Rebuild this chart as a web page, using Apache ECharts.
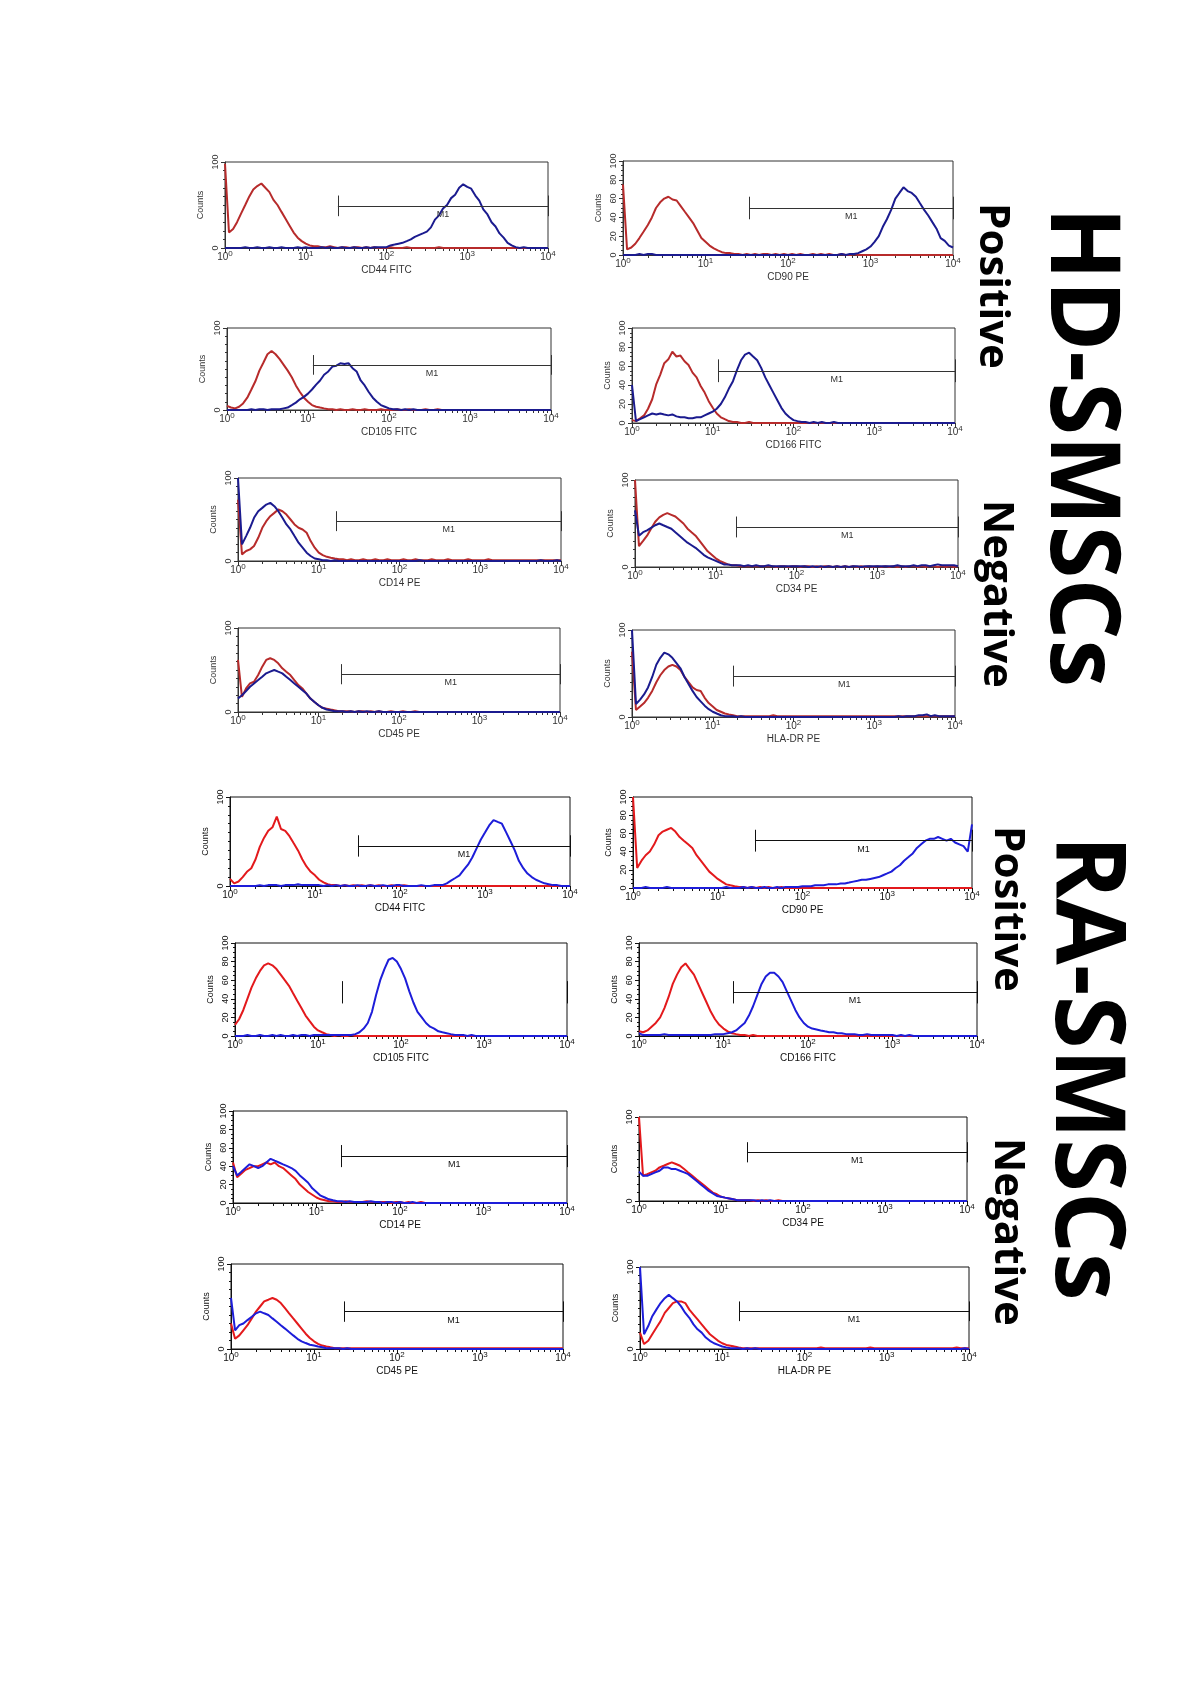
<!DOCTYPE html>
<html>
<head>
<meta charset="utf-8">
<title>HD-SMSCs / RA-SMSCs surface markers</title>
<script src="https://cdn.jsdelivr.net/npm/echarts@6/dist/echarts.min.js"></script>
<style>
  html, body { margin: 0; padding: 0; background: #fff; }
  #chart { width: 1200px; height: 1698px; }
</style>
</head>
<body>
<div id="chart"></div>
<script>
// fluorescence channels (log-spaced, 10^0 .. 10^4)
const bins = [1, 1.12, 1.26, 1.41, 1.58, 1.78, 2, 2.24, 2.51, 2.82,
  3.16, 3.55, 3.98, 4.47, 5.01, 5.62, 6.31, 7.08, 7.94, 8.91,
  10, 11.2, 12.6, 14.1, 15.8, 17.8, 20, 22.4, 25.1, 28.2,
  31.6, 35.5, 39.8, 44.7, 50.1, 56.2, 63.1, 70.8, 79.4, 89.1,
  100, 112, 126, 141, 158, 178, 200, 224, 251, 282,
  316, 355, 398, 447, 501, 562, 631, 708, 794, 891,
  1000, 1120, 1260, 1410, 1580, 1780, 2000, 2240, 2510, 2820,
  3160, 3550, 3980, 4470, 5010, 5620, 6310, 7080, 7940, 8910, 10000];

// ---- HD-SMSCs ----
const hdCd44Red = [98,18,22,30,40,50,60,68,72,75, 70,65,56,50,42,34,26,18,12,8, 5,3,2,2,1,1,2,1,0,1, 1,0,1,1,0,1,0,1,0,0, 0,1,0,0,0,1,0,0,0,0, 0,0,0,1,0,0,0,0,0,0, 0,0,0,0,0,0,0,0,0,0, 0,0,0,0,0,0,0,0,0,0,0];
const hdCd44Blue = [0,0,0,0,0,1,0,0,1,0, 0,1,0,0,1,0,0,0,1,0, 1,0,0,0,1,0,1,0,0,1, 0,0,1,0,0,1,0,1,1,1, 1,3,4,5,6,8,10,13,15,17, 19,24,33,38,46,50,58,62,70,74, 71,69,61,55,45,39,30,25,17,12, 6,3,1,0,1,0,0,0,0,0,0];
const hdCd90Red = [75,6,8,12,18,25,32,40,50,56, 60,62,59,58,52,46,40,34,26,18, 14,10,7,5,3,2,2,1,1,0, 1,0,1,0,1,1,0,1,0,1, 0,1,0,1,0,0,1,0,1,0, 1,0,0,1,0,0,1,0,0,0, 0,0,0,0,0,0,0,0,0,0, 0,0,0,0,0,0,0,0,0,0,0];
const hdCd90Blue = [0,0,0,0,1,0,1,1,0,0, 0,0,0,0,0,0,0,0,0,0, 0,0,0,0,0,0,0,0,0,0, 0,0,0,0,0,0,0,0,0,0, 0,0,0,0,0,0,0,0,0,0, 0,0,0,1,0,1,1,2,4,6, 9,14,20,30,38,48,60,66,72,68, 66,62,55,48,42,35,28,18,15,10,8];
const hdCd105Red = [5,3,2,4,8,15,25,35,48,58, 68,72,68,62,55,48,40,30,22,15, 10,6,4,3,2,1,1,0,1,0, 0,1,0,0,1,0,0,0,1,0, 0,0,1,0,0,1,0,0,0,1, 0,0,1,0,0,0,0,0,0,0, 0,0,0,0,0,0,0,0,0,0, 0,0,0,0,0,0,0,0,0,0,0];
const hdCd105Blue = [0,0,0,0,0,0,1,0,1,1, 0,1,1,1,2,3,6,9,13,16, 20,25,31,36,43,47,53,54,57,56, 57,51,47,36,30,22,15,10,6,4, 2,1,1,0,1,0,1,0,0,0, 0,0,0,0,0,0,0,0,0,0, 0,0,0,0,0,0,0,0,0,0, 0,0,0,0,0,0,0,0,0,0,0];
const hdCd166Red = [3,2,5,8,15,25,41,51,63,67, 75,70,71,65,61,53,48,39,32,23, 16,10,6,4,2,1,1,0,0,1, 0,0,0,0,0,0,0,0,0,0, 0,0,0,0,0,0,0,0,0,0, 0,0,0,0,0,0,0,0,0,0, 0,0,0,0,0,0,0,0,0,0, 0,0,0,0,0,0,0,0,0,0,0];
const hdCd166Blue = [40,2,4,6,8,10,9,10,9,8, 9,7,6,6,5,5,6,6,8,10, 12,15,20,27,36,44,56,66,72,74, 70,66,58,48,40,32,24,16,10,6, 3,2,1,1,0,1,0,1,0,0, 1,0,0,0,0,0,0,0,0,0, 0,0,0,0,0,0,0,0,0,0, 0,0,0,0,0,0,0,0,0,0,0];
const hdCd14Red = [74,8,12,14,18,28,40,48,54,58, 62,60,56,50,44,40,38,34,24,16, 10,7,5,4,3,2,2,1,2,1, 1,2,1,1,2,1,1,2,1,1, 1,2,1,1,2,1,1,1,2,1, 1,1,2,1,1,1,1,2,1,1, 1,1,2,1,1,1,1,1,1,1, 1,1,1,1,1,1,1,1,1,1,1];
const hdCd14Blue = [100,20,30,40,52,60,64,68,70,66, 60,52,44,38,30,22,16,10,6,3, 2,1,1,0,1,0,0,0,0,0, 0,0,0,0,0,0,0,0,0,0, 0,0,0,0,0,1,0,0,0,0, 0,0,0,0,0,0,0,0,0,0, 0,0,0,0,0,0,0,0,0,0, 0,0,0,0,0,1,0,0,0,1,0];
const hdCd34Red = [100,24,30,36,44,52,57,60,62,60, 58,54,50,44,40,36,30,24,18,14, 10,7,5,3,2,2,1,1,1,1, 1,1,1,1,1,0,1,1,0,1, 1,0,1,1,0,1,0,1,1,0, 1,0,1,0,1,0,1,0,1,0, 1,0,1,0,1,0,1,0,1,1, 0,1,0,1,1,0,1,0,1,0,1];
const hdCd34Blue = [65,36,40,42,45,48,50,48,46,44, 40,36,32,28,25,22,18,14,11,9, 7,5,3,3,2,2,2,1,2,1, 2,1,1,2,1,1,1,1,1,1, 1,1,1,0,1,0,1,0,1,0, 1,0,1,0,1,1,0,1,1,1, 1,1,1,1,1,2,1,1,1,2, 1,2,2,1,2,3,2,2,2,2,1];
const hdCd45Red = [62,18,28,34,36,44,54,62,64,62, 58,52,48,44,38,32,28,22,16,12, 8,5,4,3,2,1,1,1,1,0, 1,1,0,1,0,1,0,0,1,0, 0,1,0,0,1,0,0,0,0,0, 0,0,0,0,0,0,0,0,0,0, 0,0,0,0,0,0,0,0,0,0, 0,0,0,0,0,0,0,0,0,0,0];
const hdCd45Blue = [16,20,25,30,34,38,42,46,48,50, 48,46,42,38,34,30,26,22,16,12, 8,5,3,2,1,1,1,0,1,0, 1,0,1,0,0,1,0,0,0,0, 0,0,0,0,0,0,0,0,0,0, 0,0,0,0,0,0,0,0,0,0, 0,0,0,0,0,0,0,0,0,0, 0,0,0,0,0,0,0,0,0,0,0];
const hdHlaRed = [75,8,12,16,22,30,40,48,54,58, 60,58,54,46,40,34,31,30,22,16, 12,8,6,4,3,2,1,1,1,1, 1,1,1,1,1,2,1,1,1,1, 1,1,1,1,1,1,1,1,1,1, 1,1,1,1,1,1,1,1,1,1, 1,1,1,1,1,1,1,1,1,1, 1,1,1,1,1,1,1,1,1,1,1];
const hdHlaBlue = [100,15,20,26,34,46,60,68,74,72, 68,62,56,46,38,30,23,18,13,9, 6,4,2,1,1,1,0,1,0,0, 0,0,0,0,0,0,0,0,0,0, 0,0,0,0,0,0,0,0,0,0, 0,0,0,0,0,0,0,0,0,0, 0,0,0,0,0,0,1,0,1,1, 1,2,2,3,1,2,1,1,1,1,1];

// ---- RA-SMSCs ----
const raCd44Red = [8,3,5,10,16,20,30,44,54,62, 66,78,64,62,56,48,40,30,22,16, 12,7,4,2,1,1,0,1,0,1, 0,1,0,1,0,1,0,0,1,0, 0,1,0,0,0,0,0,0,0,0, 0,0,0,0,0,0,0,0,0,0, 0,0,0,0,0,0,0,0,0,0, 0,0,0,0,0,0,0,0,0,0,0];
const raCd44Blue = [0,0,0,0,0,0,0,1,0,1, 1,1,0,1,1,1,2,1,1,1, 1,1,0,1,0,1,0,1,0,0, 1,0,0,1,0,0,1,0,0,1, 1,0,0,0,0,1,0,0,1,1, 1,3,6,9,12,18,24,32,42,52, 60,68,74,72,70,60,50,40,28,20, 14,10,7,5,3,2,1,1,0,0,0];
const raCd90Red = [100,22,30,36,40,48,58,62,64,66, 62,56,52,48,44,36,30,24,18,14, 10,7,4,3,2,1,1,0,1,0, 1,0,1,0,0,1,0,0,0,0, 0,0,0,0,0,0,0,0,0,0, 0,0,0,0,0,0,0,0,0,0, 0,0,0,0,0,0,0,0,0,0, 0,0,0,0,0,0,0,0,0,0,0];
const raCd90Blue = [0,0,0,1,0,0,0,0,1,0, 0,0,0,0,0,0,0,0,0,0, 0,0,1,0,0,0,1,0,1,0, 0,1,0,0,1,0,1,1,1,1, 2,2,2,3,3,3,4,4,4,5, 5,6,7,8,9,9,10,11,12,14, 16,18,22,25,30,34,38,44,48,52, 54,54,56,54,52,54,50,48,46,40,70];
const raCd105Red = [12,18,28,40,52,62,70,76,78,76, 72,66,60,54,46,38,30,22,16,10, 6,4,2,1,0,1,0,0,1,0, 0,0,0,0,0,0,0,0,0,0, 0,0,0,0,0,0,0,0,0,0, 0,0,0,0,0,0,0,0,0,0, 0,0,0,0,0,0,0,0,0,0, 0,0,0,0,0,0,0,0,0,0,0];
const raCd105Blue = [0,0,0,1,0,0,1,0,0,1, 0,1,0,0,1,0,1,1,0,1, 1,1,1,1,1,1,1,1,1,2, 4,8,14,26,44,60,72,82,84,80, 72,62,48,36,26,20,14,10,8,5, 4,3,2,1,1,1,0,1,0,0, 0,0,0,0,0,0,0,0,0,0, 0,0,0,0,0,0,0,0,0,0,0];
const raCd166Red = [5,4,6,10,14,20,30,42,56,66, 74,78,72,66,56,46,36,26,18,12, 8,5,3,2,1,1,0,1,0,0, 0,0,0,0,0,0,0,0,0,0, 0,0,0,0,0,0,0,0,0,0, 0,0,0,0,0,0,0,0,0,0, 0,0,0,0,0,0,0,0,0,0, 0,0,0,0,0,0,0,0,0,0,0];
const raCd166Blue = [3,1,1,1,1,1,2,1,1,1, 1,1,1,1,1,1,1,1,2,2, 2,3,4,6,10,14,22,32,44,56, 64,68,68,64,58,48,38,28,20,14, 10,8,7,6,5,4,4,3,3,2, 2,2,1,1,2,1,1,1,1,1, 1,0,1,0,1,0,0,0,0,0, 0,0,0,0,0,0,0,0,0,0,0];
const raCd14Red = [44,28,32,36,38,40,40,42,44,42, 44,40,38,34,30,26,20,16,12,9, 6,4,3,2,2,1,1,2,1,1, 1,1,2,1,1,1,1,1,0,1, 1,0,1,0,0,1,0,0,0,0, 0,0,0,0,0,0,0,0,0,0, 0,0,0,0,0,0,0,0,0,0, 0,0,0,0,0,0,0,0,0,0,0];
const raCd14Blue = [40,30,34,38,42,40,38,40,44,48, 46,44,42,40,38,35,30,26,22,16, 12,8,6,4,3,2,2,1,2,1, 1,1,1,2,1,1,0,1,1,0, 1,0,0,1,0,0,0,0,0,0, 0,0,0,0,0,0,0,0,0,0, 0,0,0,0,0,0,0,0,0,0, 0,0,0,0,0,0,0,0,0,0,0];
const raCd34Red = [100,30,32,34,36,40,42,44,46,44, 42,38,34,30,26,22,18,14,10,8, 5,4,3,2,1,1,1,1,0,1, 0,1,0,0,1,0,0,0,0,0, 0,0,0,0,0,0,0,0,0,0, 0,0,0,0,0,0,0,0,0,0, 0,0,0,0,0,0,0,0,0,0, 0,0,0,0,0,0,0,0,0,0,0];
const raCd34Blue = [35,30,30,32,34,36,40,40,38,38, 36,34,32,28,24,20,16,12,9,6, 5,4,3,2,1,1,1,1,1,0, 1,0,1,0,0,0,0,0,0,0, 0,0,0,0,0,0,0,0,0,0, 0,0,0,0,0,0,0,0,0,0, 0,0,0,0,0,0,0,0,0,0, 0,0,0,0,0,0,0,0,0,0,0];
const raCd45Red = [30,12,16,22,28,36,44,50,56,58, 60,58,54,48,42,36,30,24,18,13, 9,6,4,3,2,1,1,1,1,1, 1,1,1,1,1,1,1,1,1,1, 1,1,1,1,1,1,1,1,1,1, 1,1,1,1,1,1,1,1,1,1, 1,1,1,1,1,1,1,1,1,1, 1,1,1,1,1,1,1,1,1,1,1];
const raCd45Blue = [60,22,28,30,34,38,42,44,42,40, 36,32,28,24,20,16,12,9,7,5, 4,3,2,1,1,1,1,0,1,0, 0,0,0,0,0,0,0,0,0,0, 0,0,0,0,0,0,0,0,0,0, 0,0,0,0,0,0,0,0,0,0, 0,0,0,0,0,0,0,0,0,0, 0,0,0,0,0,0,0,0,0,0,0];
const raHlaRed = [20,6,10,18,26,34,44,50,56,58, 58,56,48,42,36,30,24,18,14,10, 7,5,4,3,2,1,1,1,1,1, 1,1,1,1,1,1,1,1,1,1, 1,1,1,1,2,1,1,1,1,1, 1,1,1,1,1,1,2,1,1,1, 1,1,1,1,1,1,1,1,1,1, 1,1,1,1,1,1,1,2,1,1,1];
const raHlaBlue = [100,18,28,40,48,56,62,66,62,58, 52,44,38,30,24,20,14,10,7,5, 3,2,1,1,1,0,1,0,1,0, 0,0,0,0,0,0,0,0,0,0, 0,0,0,0,0,0,0,0,0,0, 0,0,0,0,0,0,0,0,0,0, 0,0,0,0,0,0,0,0,0,0, 0,0,0,0,0,0,0,0,0,1,0];

// panel order: HD (8) then RA (8)
const markers = ['CD44 FITC', 'CD90 PE', 'CD105 FITC', 'CD166 FITC', 'CD14 PE', 'CD34 PE', 'CD45 PE', 'HLA-DR PE',
  'CD44 FITC', 'CD90 PE', 'CD105 FITC', 'CD166 FITC', 'CD14 PE', 'CD34 PE', 'CD45 PE', 'HLA-DR PE'];
const redCounts = [hdCd44Red, hdCd90Red, hdCd105Red, hdCd166Red, hdCd14Red, hdCd34Red, hdCd45Red, hdHlaRed,
  raCd44Red, raCd90Red, raCd105Red, raCd166Red, raCd14Red, raCd34Red, raCd45Red, raHlaRed];
const blueCounts = [hdCd44Blue, hdCd90Blue, hdCd105Blue, hdCd166Blue, hdCd14Blue, hdCd34Blue, hdCd45Blue, hdHlaBlue,
  raCd44Blue, raCd90Blue, raCd105Blue, raCd166Blue, raCd14Blue, raCd34Blue, raCd45Blue, raHlaBlue];
// M1 gate: start channel and height
const gateStart = [25, 34, 11.5, 11.8, 16.6, 18, 19.3, 18, 32, 27.5, 19.5, 13, 20, 21, 23, 16];
const gateLevel = [49, 50, 55, 55, 48, 46, 45, 47, 45, 52, 47, 47, 51, 58, 44, 46];
const gateLineShown = [1, 1, 1, 1, 1, 1, 1, 1, 1, 1, 0, 1, 1, 1, 1, 1];
const yStep = [100, 20, 100, 20, 100, 100, 100, 100, 100, 20, 20, 20, 20, 100, 100, 100];

// plot boxes [left, top, width, height]
const boxes = [
  [225, 162, 323, 86], [623, 161, 330, 94],
  [227, 328, 324, 82], [632, 328, 323, 95],
  [238, 478, 323, 83], [635, 480, 323, 87],
  [238, 628, 322, 84], [632, 630, 323, 87],
  [230, 797, 340, 89], [633, 797, 339, 91],
  [235, 943, 332, 93], [639, 943, 338, 93],
  [233, 1111, 334, 92], [639, 1117, 328, 84],
  [231, 1264, 332, 85], [640, 1267, 329, 82]
];

const chart = echarts.init(document.getElementById('chart'));
const grid = [], xAxis = [], yAxis = [], series = [];

markers.forEach((name, i) => {
  const ra = i >= 8;
  const ink = ra ? '#111' : '#333';
  const [l, t, w, h] = boxes[i];
  grid.push({ left: l, top: t, width: w, height: h, show: true, borderColor: ink, borderWidth: 1 });

  xAxis.push({
    gridIndex: i, type: 'log', logBase: 10, min: 1, max: 10000,
    name: name, nameLocation: 'middle', nameGap: 17,
    nameTextStyle: { fontFamily: 'Liberation Sans', fontSize: 10, color: ink },
    axisLine: { show: true, onZero: false, lineStyle: { color: ink, width: 1 } },
    axisTick: { show: true, length: 5, lineStyle: { color: ink } },
    minorTick: { show: true, splitNumber: 9, length: 3, lineStyle: { color: ink } },
    splitLine: { show: false },
    axisLabel: {
      margin: 2,
      formatter: v => '{b|10}{s|' + Math.round(Math.log10(v)) + '}',
      rich: {
        b: { fontFamily: 'Liberation Sans', fontSize: 10, color: ink },
        s: { fontFamily: 'Liberation Sans', fontSize: 8, color: ink, padding: [0, 0, 7, 0] }
      }
    }
  });

  yAxis.push({
    gridIndex: i, type: 'value', min: 0, max: 100, interval: yStep[i],
    name: 'Counts', nameLocation: 'middle', nameGap: 20,
    nameTextStyle: { fontFamily: 'Liberation Sans', fontSize: 9, color: ink },
    axisLine: { show: true, lineStyle: { color: ink, width: 1 } },
    axisTick: { show: true, length: 4, lineStyle: { color: ink } },
    minorTick: { show: true, splitNumber: yStep[i] === 100 ? 10 : 4, length: 2, lineStyle: { color: ink } },
    splitLine: { show: false },
    axisLabel: { rotate: 90, margin: 5, fontFamily: 'Liberation Sans', fontSize: 9, color: ink }
  });

  const curve = (vals, color) => ({
    type: 'line', xAxisIndex: i, yAxisIndex: i, silent: true, animation: false,
    showSymbol: false, symbol: 'none',
    data: vals.map((v, k) => [bins[k], v]),
    lineStyle: { color: color, width: 2 }
  });
  series.push(curve(redCounts[i], ra ? '#e3191c' : '#b72b2b'));
  series.push(curve(blueCounts[i], ra ? '#1d1dd9' : '#1b1b8f'));

  // M1 gate marker
  const x0 = gateStart[i], y0 = gateLevel[i];
  series.push({
    type: 'line', xAxisIndex: i, yAxisIndex: i, data: [], silent: true, animation: false,
    markLine: {
      silent: true, symbol: 'none', animation: false,
      lineStyle: { color: ink, width: 1, type: 'solid' },
      label: { show: false },
      data: [
        [{ coord: [x0, y0], lineStyle: { opacity: gateLineShown[i] }, label: { show: true, formatter: 'M1', position: 'insideMiddleBottom', distance: 4, fontFamily: 'Liberation Sans', fontSize: 9, color: ink } },
          { coord: [10000, y0] }],
        [{ coord: [x0, y0 + 12] }, { coord: [x0, y0 - 12] }],
        [{ coord: [10000, y0 + 12] }, { coord: [10000, y0 - 12] }]
      ]
    }
  });
});

// rotated side titles
const titles = [
  { text: 'HD-SMSCs', x: 1078, y: 447, size: 96 },
  { text: 'Positive', x: 992, y: 286, size: 42 },
  { text: 'Negative', x: 996, y: 594, size: 42 },
  { text: 'RA-SMSCs', x: 1083, y: 1068, size: 96 },
  { text: 'Positive', x: 1007, y: 909, size: 42 },
  { text: 'Negative', x: 1007, y: 1232, size: 42 }
];

chart.setOption({
  backgroundColor: '#fff',
  animation: false,
  grid, xAxis, yAxis, series,
  graphic: titles.map(t => ({
    type: 'text', x: t.x, y: t.y, rotation: -Math.PI / 2, silent: true,
    style: { text: t.text, font: 'bold ' + t.size + 'px "Open Sans"', fill: '#000', align: 'center', verticalAlign: 'middle' }
  }))
});
</script>
</body>
</html>
